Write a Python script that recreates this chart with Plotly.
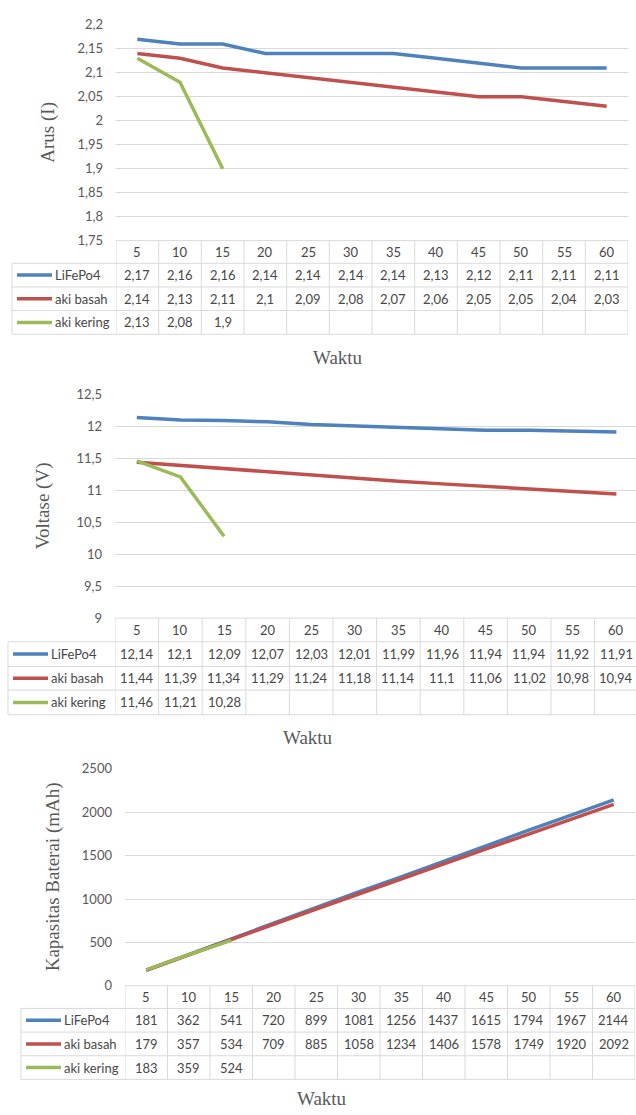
import numpy as np
import plotly.graph_objects as go

W, H = 636, 1115

waktu = [5, 10, 15, 20, 25, 30, 35, 40, 45, 50, 55, 60]
series_names = ["LiFePo4", "aki basah", "aki kering"]
series_colors = ["#4F81BD", "#C0504D", "#9BBB59"]

arus_lifepo4 = [2.17, 2.16, 2.16, 2.14, 2.14, 2.14, 2.14, 2.13, 2.12, 2.11, 2.11, 2.11]
arus_aki_basah = [2.14, 2.13, 2.11, 2.1, 2.09, 2.08, 2.07, 2.06, 2.05, 2.05, 2.04, 2.03]
arus_aki_kering = [2.13, 2.08, 1.9] + [None] * 9

volt_lifepo4 = [12.14, 12.1, 12.09, 12.07, 12.03, 12.01, 11.99, 11.96, 11.94, 11.94, 11.92, 11.91]
volt_aki_basah = [11.44, 11.39, 11.34, 11.29, 11.24, 11.18, 11.14, 11.1, 11.06, 11.02, 10.98, 10.94]
volt_aki_kering = [11.46, 11.21, 10.28] + [None] * 9

kap_lifepo4 = [181, 362, 541, 720, 899, 1081, 1256, 1437, 1615, 1794, 1967, 2144]
kap_aki_basah = [179, 357, 534, 709, 885, 1058, 1234, 1406, 1578, 1749, 1920, 2092]
kap_aki_kering = [183, 359, 524] + [None] * 9

cats = [str(v) for v in waktu]

panels = [
    dict(data=[arus_lifepo4, arus_aki_basah, arus_aki_kering], ytitle="Arus (I)",
         yrange=(1.75, 2.2), dtick=0.05, left=116, right=628, colw=None, top=17, bottom=236,
         rows=[236, 259, 283, 307, 331], legend_left=12, ytitle_x=48, xtitle=(338, 355)),
    dict(data=[volt_lifepo4, volt_aki_basah, volt_aki_kering], ytitle="Voltase (V)",
         yrange=(9, 12.5), dtick=0.5, left=115, right=636, colw=43.6, top=392, bottom=619,
         rows=[619, 643, 668, 692, 717], legend_left=8, ytitle_x=43, xtitle=(308, 740)),
    dict(data=[kap_lifepo4, kap_aki_basah, kap_aki_kering], ytitle="Kapasitas Baterai (mAh)",
         yrange=(0, 2500), dtick=500, left=125, right=635, colw=None, top=772, bottom=992,
         rows=[992, 1015, 1039, 1063, 1087], legend_left=21, ytitle_x=53, xtitle=(322, 1106)),
]

GRID = "#D9D9D9"
TXT = "#595959"
CELL = "#474747"
SANS = "Lato"
SERIF = "Liberation Serif"


def px(x):
    return x / W


def py(y):
    return 1 - y / H


def fmt(v):
    return ("%g" % v).replace(".", ",")


fig = go.Figure()
shapes = []
annotations = []
n = len(cats)

for k, p in enumerate(panels, start=1):
    xa = "x" if k == 1 else f"x{k}"
    ya = "y" if k == 1 else f"y{k}"
    colw = p["colw"] or (p["right"] - p["left"]) / n
    xr = [-0.5, -0.5 + (p["right"] - p["left"]) / colw]

    for name, color, vals in zip(series_names, series_colors, p["data"]):
        fig.add_trace(go.Scatter(x=cats, y=vals, mode="lines", name=name,
                                 line=dict(color=color, width=3.5),
                                 xaxis=xa, yaxis=ya, connectgaps=False,
                                 showlegend=False, hoverinfo="skip"))

    lo, hi = p["yrange"]
    tv = [round(v, 4) for v in np.arange(lo, hi + p["dtick"] / 2, p["dtick"])]
    fig.update_layout(**{
        ("xaxis" if k == 1 else f"xaxis{k}"): dict(
            type="category", domain=[px(p["left"]), min(1, px(p["right"]))], range=xr,
            showticklabels=False, showgrid=False, zeroline=False, showline=False,
            anchor=ya, fixedrange=True),
        ("yaxis" if k == 1 else f"yaxis{k}"): dict(
            domain=[py(p["bottom"]), py(p["top"])], range=[lo, hi],
            tickvals=tv, ticktext=[fmt(v) for v in tv], ticks="",
            ticklabelstandoff=12, showgrid=True, gridcolor=GRID, gridwidth=1,
            zeroline=False, showline=False, anchor=xa, fixedrange=True,
            tickfont=dict(family=SANS, size=13, color=TXT)),
    })

    rows = p["rows"]
    xr_pix_right = min(W, p["right"])
    # table horizontal lines
    shapes.append(dict(type="line", xref="paper", yref="paper", x0=px(p["left"]), x1=px(xr_pix_right),
                       y0=py(rows[0]), y1=py(rows[0]), line=dict(color=GRID, width=1)))
    for r in rows[1:]:
        shapes.append(dict(type="line", xref="paper", yref="paper", x0=px(p["legend_left"]),
                           x1=px(xr_pix_right), y0=py(r), y1=py(r), line=dict(color=GRID, width=1)))
    # vertical lines at category boundaries
    for i in range(n + 1):
        shapes.append(dict(type="line", xref=xa, yref="paper", x0=i - 0.5, x1=i - 0.5,
                           y0=py(rows[0]), y1=py(rows[-1]), line=dict(color=GRID, width=1)))
    shapes.append(dict(type="line", xref="paper", yref="paper", x0=px(p["legend_left"]),
                       x1=px(p["legend_left"]), y0=py(rows[1]), y1=py(rows[-1]),
                       line=dict(color=GRID, width=1)))

    # header
    hy = py((rows[0] + rows[1]) / 2)
    for i, c in enumerate(cats):
        annotations.append(dict(x=i, y=hy, xref=xa, yref="paper", text=c, showarrow=False,
                                font=dict(family=SANS, size=13, color=CELL),
                                xanchor="center", yanchor="middle"))
    # series rows
    for j, (name, color, vals) in enumerate(zip(series_names, series_colors, p["data"])):
        ry = (rows[j + 1] + rows[j + 2]) / 2
        shapes.append(dict(type="line", xref="paper", yref="paper",
                           x0=px(p["legend_left"] + 5), x1=px(p["legend_left"] + 40),
                           y0=py(ry), y1=py(ry), line=dict(color=color, width=3.5)))
        annotations.append(dict(x=px(p["legend_left"] + 41), y=py(ry), xref="paper", yref="paper",
                                text=name, showarrow=False, xanchor="left", yanchor="middle",
                                font=dict(family=SANS, size=13, color=CELL)))
        for i, v in enumerate(vals):
            if v is None:
                continue
            annotations.append(dict(x=i, y=py(ry), xref=xa, yref="paper", text=fmt(v),
                                    showarrow=False, xanchor="center", yanchor="middle",
                                    font=dict(family=SANS, size=13, color=CELL)))

    # axis titles
    annotations.append(dict(x=px(p["ytitle_x"]), y=py((p["top"] + p["bottom"]) / 2), xref="paper",
                            yref="paper", text=p["ytitle"], textangle=-90, showarrow=False,
                            xanchor="center", yanchor="middle",
                            font=dict(family=SERIF, size=19, color=TXT)))
    annotations.append(dict(x=px(p["xtitle"][0]), y=py(p["xtitle"][1]), xref="paper", yref="paper",
                            text="Waktu", showarrow=False, xanchor="center", yanchor="middle",
                            font=dict(family=SERIF, size=19, color=TXT)))

fig.update_layout(width=W, height=H, margin=dict(l=0, r=0, t=0, b=0),
                  paper_bgcolor="white", plot_bgcolor="white", showlegend=False,
                  separators=",.", shapes=shapes, annotations=annotations, hovermode=False)

fig.write_html("out.html", config={"displayModeBar": False, "staticPlot": True},
               post_script="document.body.style.margin='0';document.body.style.padding='0';"
                           "document.body.style.overflow='hidden';")
